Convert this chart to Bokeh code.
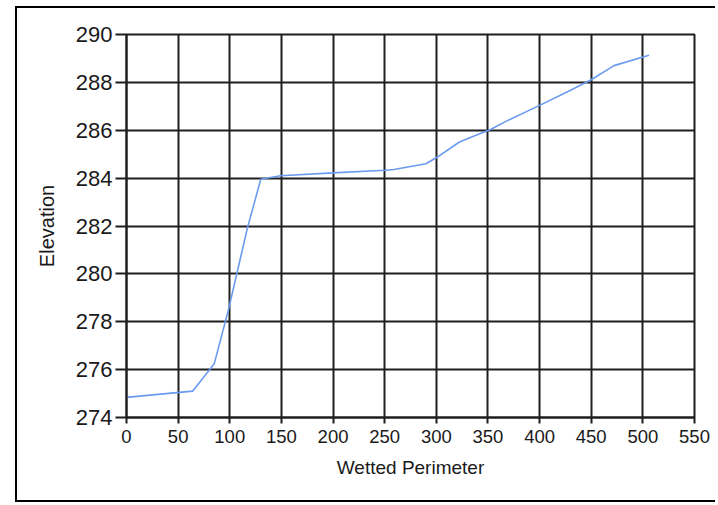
from bokeh.plotting import figure
from bokeh.models import FixedTicker, Range1d
from bokeh.embed import file_html
from bokeh.resources import INLINE

# Data
wetted_perimeter = [0, 64, 85, 99, 117, 130, 149, 200, 250, 259, 290, 301, 322,
                    333, 353, 366, 400, 430, 450, 472, 506]
elevation = [274.84, 275.1, 276.25, 278.55, 281.9, 283.95, 284.1, 284.22, 284.33,
             284.36, 284.6, 284.88, 285.5, 285.7, 286.04, 286.34, 287.04, 287.67,
             288.11, 288.7, 289.13]
x_ticks = [0, 50, 100, 150, 200, 250, 300, 350, 400, 450, 500, 550]
y_ticks = [274, 276, 278, 280, 282, 284, 286, 288, 290]

FONT = "Liberation Sans"
GRID = "#1e1e1e"

p = figure(width=700, height=496, output_backend="svg", toolbar_location=None,
           x_range=Range1d(0, 550), y_range=Range1d(274, 290),
           min_border_left=109, min_border_right=23, min_border_top=26,
           min_border_bottom=87,
           styles={"margin-left": "15px", "margin-top": "6px",
                   "border-left": "2px solid black", "border-top": "2px solid black",
                   "border-bottom": "2px solid black"})
p.background_fill_color = "white"
p.border_fill_color = "white"
p.outline_line_color = GRID
p.outline_line_width = 2

p.line(wetted_perimeter, elevation, line_color="#6b9bef", line_width=1.6)

p.xaxis.ticker = FixedTicker(ticks=x_ticks)
p.yaxis.ticker = FixedTicker(ticks=y_ticks)
p.xgrid.ticker = FixedTicker(ticks=x_ticks)
p.ygrid.ticker = FixedTicker(ticks=y_ticks)

for g in (p.xgrid, p.ygrid):
    g.grid_line_color = GRID
    g.grid_line_width = 2
    g.grid_line_alpha = 1.0

for ax in (p.xaxis, p.yaxis):
    ax.axis_line_color = GRID
    ax.axis_line_width = 2
    ax.major_tick_line_color = GRID
    ax.major_tick_line_width = 2
    ax.major_tick_in = 0
    ax.minor_tick_line_color = None
    ax.major_label_text_font = FONT
    ax.major_label_text_color = "#1a1a1a"
    ax.axis_label_text_font = FONT
    ax.axis_label_text_font_style = "normal"
    ax.axis_label_text_color = "#1a1a1a"

p.xaxis.major_tick_out = 6
p.yaxis.major_tick_out = 11
p.xaxis.major_label_text_font_size = "18.5px"
p.yaxis.major_label_text_font_size = "22px"
p.xaxis.major_label_standoff = 6
p.yaxis.major_label_standoff = 3
p.xaxis.axis_label = "Wetted Perimeter"
p.yaxis.axis_label = "Elevation"
p.xaxis.axis_label_text_font_size = "19px"
p.yaxis.axis_label_text_font_size = "20px"
p.xaxis.axis_label_standoff = 11
p.yaxis.axis_label_standoff = 15

open("out.html", "w").write(file_html(p, INLINE))
